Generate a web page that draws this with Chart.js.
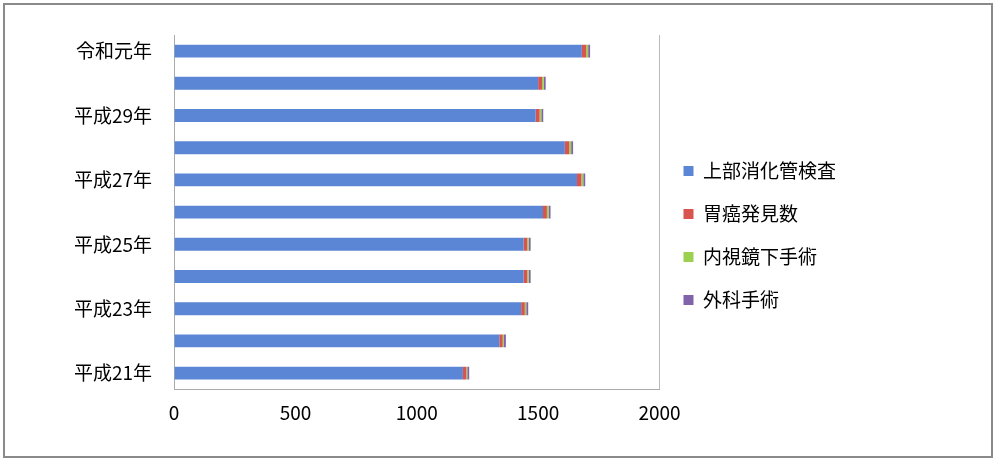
<!DOCTYPE html>
<html>
<head>
<meta charset="utf-8">
<script src="https://cdn.jsdelivr.net/npm/chart.js@4"></script>
<style>
  body { margin: 0; background: #fff; }
  #wrap { position: absolute; left: 3px; top: 3px; width: 990px; height: 455px; border: 2px solid #8a8a8a; box-sizing: border-box; }
</style>
</head>
<body>
<div id="wrap"><canvas id="c"></canvas></div>
<script>
// categories, top to bottom
const years = ['令和元年', '平成30年', '平成29年', '平成28年', '平成27年', '平成26年',
               '平成25年', '平成24年', '平成23年', '平成22年', '平成21年'];

const upperGI = [1680, 1500, 1490, 1610, 1660, 1520, 1440, 1440, 1430, 1340, 1190];
const gastricCancer = [18, 16, 16, 18, 18, 16, 15, 15, 15, 14, 14];
const endoscopic = [8, 7, 7, 8, 8, 7, 6, 6, 6, 5, 4];
const surgery = [8, 8, 8, 8, 8, 8, 8, 8, 8, 8, 8];

const xTicks = [0, 500, 1000, 1500, 2000];

const font = { family: 'Noto Sans CJK JP', size: 19 };

new Chart(document.getElementById('c'), {
    type: 'bar',
    data: {
        labels: years,
        datasets: [
            { label: '上部消化管検査', data: upperGI, backgroundColor: '#5b86d6' },
            { label: '胃癌発見数', data: gastricCancer, backgroundColor: '#d9534f' },
            { label: '内視鏡下手術', data: endoscopic, backgroundColor: '#9bd14f' },
            { label: '外科手術', data: surgery, backgroundColor: '#8063a8' }
        ]
    },
    options: {
        indexAxis: 'y',
        responsive: true,
        maintainAspectRatio: false,
        animation: false,
        layout: { padding: { left: 55, top: 30, right: 25, bottom: 20 } },
        datasets: { bar: { categoryPercentage: 0.4, barPercentage: 1 } },
        scales: {
            x: {
                stacked: true,
                min: 0, max: 2000,
                afterBuildTicks: axis => { axis.ticks = xTicks.map(v => ({ value: v })); },
                ticks: { color: '#000', font: font, padding: 12, callback: v => String(v) },
                grid: { color: ctx => ctx.index === 4 ? '#bbb' : 'rgba(0,0,0,0)', drawTicks: false },
                border: { color: '#aaa' }
            },
            y: {
                stacked: true,
                ticks: {
                    color: '#000', font: font, autoSkip: false, padding: 14,
                    callback: function (v, i) { return i % 2 === 0 ? this.getLabelForValue(v) : ''; }
                },
                grid: { display: false },
                border: { color: '#aaa' }
            }
        },
        plugins: {
            legend: {
                position: 'right',
                labels: { color: '#000', font: font, boxWidth: 10, boxHeight: 10, padding: 24 },
                afterFit: undefined
            },
            tooltip: { enabled: false }
        }
    },
    plugins: [{
        id: 'legendWidth',
        beforeInit(chart) {
            const orig = chart.legend && chart.legend.fit;
        }
    }]
});
// widen the legend box so the plot ends near x=650
Chart.getChart('c').legend.fit = (function (fit) {
    return function () { fit.call(this); this.width += 120; };
})(Chart.getChart('c').legend.fit);
Chart.getChart('c').update();
</script>
</body>
</html>
